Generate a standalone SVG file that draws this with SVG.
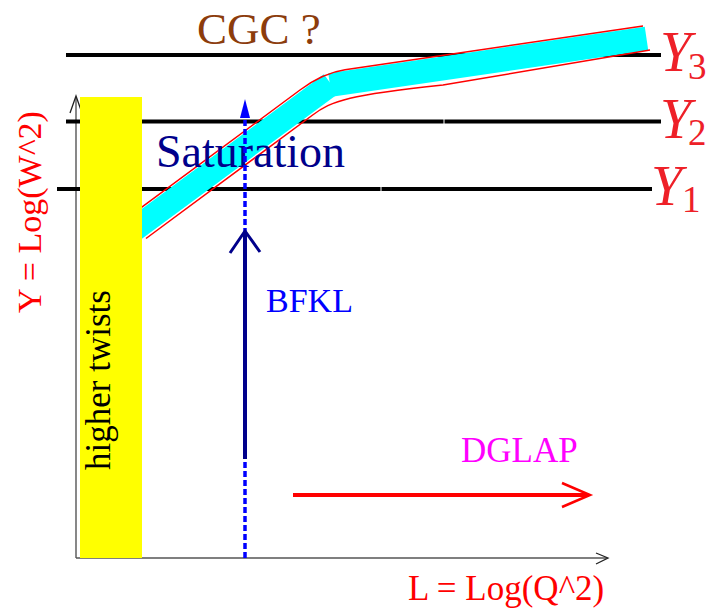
<svg xmlns="http://www.w3.org/2000/svg" width="713" height="612" viewBox="0 0 713 612">
<style>
  .serif { font-family: "Liberation Serif", "Times New Roman", serif; }
  .level { stroke: #000; stroke-width: 4; fill: none; }
  .band { stroke: #00ffff; stroke-width: 24; fill: none; stroke-linecap: butt; }
  .edge { stroke: #ff0000; stroke-width: 1.5; fill: none; }
  .axis { stroke: #555; stroke-width: 1.4; fill: none; }
  .ylab { fill: #ee2028; font-style: italic; font-size: 56px; }
  .sub { fill: #ee2028; font-size: 37px; }
</style>
<rect width="713" height="612" fill="#fff"/>

<g id="axes">
  <line class="axis" x1="76" y1="558" x2="76" y2="97" stroke="#333"/>
  <polyline points="70,113 76,96 82,113" fill="none" stroke="#222" stroke-width="1.3"/>
  <line class="axis" x1="76" y1="558" x2="607" y2="558"/>
  <polyline points="596,553 608,558 596,564" fill="none" stroke="#222" stroke-width="1.3"/>
</g>

<g id="levels">
  <line class="level" x1="66" y1="55" x2="661" y2="55"/>
  <line class="level" x1="66" y1="121.5" x2="443.5" y2="121.5"/>
  <line class="level" x1="444.5" y1="121.5" x2="661" y2="121.5"/>
  <line class="level" x1="57" y1="189" x2="380.5" y2="189"/>
  <line class="level" x1="381.5" y1="189" x2="652" y2="189"/>
</g>

<g id="saturation-band">
  <line class="band" x1="110" y1="247.4" x2="331" y2="84"/>
  <line class="band" x1="330" y1="85" x2="646.5" y2="38.5"/>
  <path class="edge" d="M130 215.9 L300 90 Q323 73 345 69.8 L643 26"/>
  <path class="edge" d="M146 238.5 L312 115.5 C332 100 350 95 443 85 L650 50"/>
</g>

<g id="higher-twists">
  <rect x="80" y="97" width="62" height="461" fill="#ffff00"/>
  <text class="serif" transform="translate(110,470) rotate(-90)" font-size="35" fill="#000">higher twists</text>
</g>

<g id="saturation-label">
  <text class="serif" x="156" y="167" font-size="46" fill="#00008b">Saturation</text>
</g>

<g id="connectors">
  <g id="saturation-dotted">
    <line x1="245" y1="558" x2="245" y2="114" stroke="#0000ff" stroke-width="3.5" stroke-dasharray="6 3"/>
    <polygon points="245,99 240,118 250,118" fill="#0000ff"/>
  </g>
  <g id="bfkl-arrow">
    <line x1="245" y1="459" x2="245" y2="233" stroke="#00008b" stroke-width="4"/>
    <polyline points="230,253 245,231 260,252" fill="none" stroke="#00008b" stroke-width="3"/>
  </g>
  <g id="dglap-arrow">
    <line x1="293" y1="495" x2="588" y2="495" stroke="#ff0000" stroke-width="4"/>
    <polyline points="562,483 590,495 562,507" fill="none" stroke="#ff0000" stroke-width="2.5"/>
  </g>
</g>

<g id="cgc-label">
  <text class="serif" x="197" y="44" font-size="45" fill="#8c3c0c">CGC ?</text>
</g>
<g id="bfkl-label">
  <text class="serif" x="266" y="312" font-size="34" fill="#0000ff">BFKL</text>
</g>
<g id="dglap-label">
  <text class="serif" x="461" y="462" font-size="35" fill="#ff00ff">DGLAP</text>
</g>
<g id="x-axis-label">
  <text class="serif" x="408" y="600" font-size="35" fill="#ff0000">L = Log(Q^2)</text>
</g>
<g id="y-axis-label">
  <text class="serif" transform="translate(41,313) rotate(-90)" font-size="34" fill="#ff0000">Y = Log(W^2)</text>
</g>
<g id="Y3">
  <text class="serif ylab" x="660" y="71">Y</text>
  <text class="serif sub" x="688" y="79">3</text>
</g>
<g id="Y2">
  <text class="serif ylab" x="660" y="138">Y</text>
  <text class="serif sub" x="688" y="145">2</text>
</g>
<g id="Y1">
  <text class="serif ylab" x="651" y="205">Y</text>
  <text class="serif sub" x="682" y="212">1</text>
</g>
</svg>
